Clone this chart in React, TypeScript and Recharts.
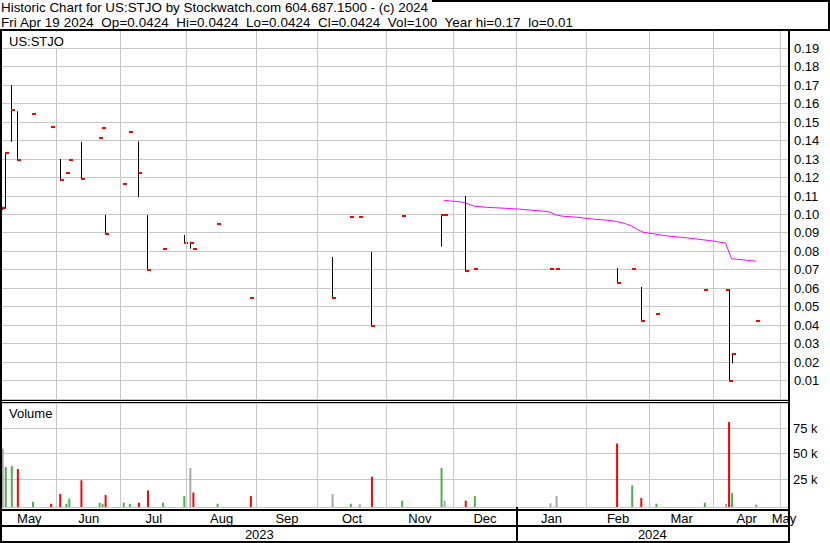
import React from 'react';
import { Bar, CartesianGrid, Cell, ComposedChart, Line, ReferenceLine, XAxis, YAxis } from 'recharts';

// trading days
const barDates = [
  '2023-05-08', '2023-05-09', '2023-05-11', '2023-05-15', '2023-05-22', '2023-05-30',
  '2023-06-02', '2023-06-06', '2023-06-07', '2023-06-13', '2023-06-21', '2023-06-22', '2023-06-23',
  '2023-07-03', '2023-07-05', '2023-07-10', '2023-07-13', '2023-07-20', '2023-07-31',
  '2023-08-02', '2023-08-03', '2023-08-15', '2023-08-30',
  '2023-10-06', '2023-10-16', '2023-10-19', '2023-10-25',
  '2023-11-08', '2023-11-27', '2023-11-28',
  '2023-12-07', '2023-12-12',
  '2024-01-16', '2024-01-18',
  '2024-02-15', '2024-02-22', '2024-02-27',
  '2024-03-05', '2024-03-27',
  '2024-04-05', '2024-04-08', '2024-04-09', '2024-04-19',
];
const highs = [
  0.1043, 0.1337, 0.1701, 0.156, 0.1546, 0.1475,
  0.1301, 0.1225, 0.1297, 0.1394, 0.1414, 0.1468, 0.0997,
  0.1165, 0.1447, 0.1396, 0.0997, 0.0813, 0.0889,
  0.0853, 0.0815, 0.095, 0.0545,
  0.077, 0.0988, 0.0988, 0.0797,
  0.0993, 0.1001, 0.0999,
  0.11, 0.0706,
  0.0706, 0.0706,
  0.071, 0.0706, 0.0607,
  0.0463, 0.0593,
  0.0593, 0.0593, 0.025, 0.0424,
];
const lows = [
  0.1025, 0.1035, 0.1394, 0.1295, 0.1546, 0.1475,
  0.1188, 0.1225, 0.1297, 0.1195, 0.1414, 0.1468, 0.0897,
  0.1165, 0.1447, 0.1096, 0.0697, 0.0813, 0.0848,
  0.0815, 0.0815, 0.095, 0.0545,
  0.0545, 0.0988, 0.0988, 0.0398,
  0.0993, 0.0826, 0.0999,
  0.0696, 0.0706,
  0.0706, 0.0706,
  0.0631, 0.0706, 0.0425,
  0.0463, 0.0593,
  0.0593, 0.0095, 0.0194, 0.0424,
];
const closes = [
  0.1035, 0.1333, 0.1566, 0.1295, 0.1546, 0.1475,
  0.1188, 0.1225, 0.1297, 0.1195, 0.1414, 0.1468, 0.0897,
  0.1165, 0.1447, 0.1225, 0.0697, 0.0813, 0.0848,
  0.0848, 0.0815, 0.095, 0.0545,
  0.0545, 0.0988, 0.0988, 0.0398,
  0.0993, 0.0999, 0.0999,
  0.0696, 0.0706,
  0.0706, 0.0706,
  0.0631, 0.0706, 0.0425,
  0.0463, 0.0593,
  0.0593, 0.0096, 0.0246, 0.0424,
];
const volumes = [
  55000, 37000, 38000, 35000, 3000, 1000,
  10500, 1000, 6000, 24000, 2000, 1000, 9500,
  2000, 1000, 2000, 14000, 2000, 8500,
  36000, 12000, 1000, 8500,
  10500, 1000, 500, 27500,
  4000, 36000, 4000,
  4000, 8500,
  1500, 8500,
  60000, 19000, 6500,
  1000, 2000,
  1000, 81000, 11500, 100,
];

// moving average (magenta)
const maDates = [
  '2023-11-28', '2023-11-30', '2023-12-04', '2023-12-06', '2023-12-08', '2023-12-12', '2023-12-18',
  '2023-12-26', '2024-01-02', '2024-01-08', '2024-01-12', '2024-01-16', '2024-01-18', '2024-01-22',
  '2024-01-29', '2024-02-05', '2024-02-12', '2024-02-15', '2024-02-20', '2024-02-22', '2024-02-26',
  '2024-02-28', '2024-03-04', '2024-03-07', '2024-03-11', '2024-03-18', '2024-03-25', '2024-03-28',
  '2024-04-01', '2024-04-03', '2024-04-05', '2024-04-09', '2024-04-11', '2024-04-16', '2024-04-19',
];
const maValues = [
  0.1077, 0.1073, 0.1071, 0.1067, 0.1057, 0.1045, 0.1039,
  0.1034, 0.1029, 0.1023, 0.1018, 0.1013, 0.0998, 0.0991,
  0.0985, 0.0975, 0.0969, 0.0962, 0.095, 0.0937, 0.0918,
  0.0903, 0.0896, 0.0888, 0.0883, 0.0876, 0.0866, 0.086,
  0.0856, 0.085, 0.0845, 0.076, 0.0757, 0.0752, 0.0747,
];

const monthStarts = [
  '2023-05-01', '2023-06-01', '2023-07-01', '2023-08-01', '2023-09-01', '2023-10-01', '2023-11-01',
  '2023-12-01', '2024-01-01', '2024-02-01', '2024-03-01', '2024-04-01', '2024-05-01', '2024-06-01',
];
const monthLabels = ['May', 'Jun', 'Jul', 'Aug', 'Sep', 'Oct', 'Nov', 'Dec', 'Jan', 'Feb', 'Mar', 'Apr', 'May'];
const yearStarts = ['2023-01-01', '2024-01-01', '2025-01-01'];
const yearLabels = ['2023', '2024'];

const priceTicks = [0.01, 0.02, 0.03, 0.04, 0.05, 0.06, 0.07, 0.08, 0.09, 0.1, 0.11, 0.12, 0.13, 0.14, 0.15, 0.16, 0.17, 0.18, 0.19];
const volumeTicks = [25000, 50000, 75000];

const FONT = '"Liberation Sans", Arial, sans-serif';
const GRID = '#c8c8c8';
const X_DOMAIN: [number, number] = [4.92, 264.64];
const VOL_DOMAIN: [number, number] = [-2200, 99700];

// x axis counts weekdays; weekends sit just after the Friday
const ORIGIN = Date.UTC(2023, 4, 1);
const session = (s: string) => {
  const [y, m, d] = s.split('-').map(Number);
  const days = Math.round((Date.UTC(y, m - 1, d) - ORIGIN) / 86400000);
  const wk = Math.floor(days / 7);
  const r = days - wk * 7;
  return wk * 5 + (r < 5 ? r : 4.2);
};

const bars = barDates.map((d, k) => {
  const prev = k > 0 ? closes[k - 1] : null;
  const c = closes[k];
  return {
    i: session(d),
    high: highs[k],
    low: lows[k],
    close: c,
    vol: volumes[k],
    color: prev === null || prev === c ? '#a8a8a8' : c > prev ? '#4cb04c' : '#ff0000',
  };
});
const maData = maDates.map((d, k) => ({ i: session(d), ma: maValues[k] }));

const clamp = (v: number) => Math.min(X_DOMAIN[1], Math.max(X_DOMAIN[0], v));
const monthGrid = monthStarts.map(session).filter((v) => v > X_DOMAIN[0] && v < X_DOMAIN[1]);

type AxisTickInfo = { value: number; kind: 'month' | 'year' | 'divider'; label: string };
const axisTicks: AxisTickInfo[] = [
  ...monthLabels.map((label, k) => ({
    value: (clamp(session(monthStarts[k])) + clamp(session(monthStarts[k + 1]))) / 2,
    kind: 'month' as const,
    label,
  })),
  ...yearLabels.map((label, k) => ({
    value: (clamp(session(yearStarts[k])) + clamp(session(yearStarts[k + 1]))) / 2,
    kind: 'year' as const,
    label,
  })),
  ...yearStarts
    .map(session)
    .filter((v) => v > X_DOMAIN[0] && v < X_DOMAIN[1])
    .map((value) => ({ value, kind: 'divider' as const, label: '' })),
];

const OhlcShape = (props: any) => {
  const { x, y, width, height, payload } = props;
  const top = Math.min(y, y + height);
  const h = Math.abs(height);
  const cx = Math.round(x + width / 2);
  const span = payload.high - payload.low;
  const cy = span > 0 ? top + ((payload.high - payload.close) / span) * h : top;
  return (
    <g>
      {h > 0.5 && <rect x={cx} y={top} width={1} height={h} fill="#000" />}
      <rect x={cx} y={Math.round(cy) - 1} width={4} height={2} fill="#ff0000" />
    </g>
  );
};

const PriceTick = ({ x, y, payload }: any) => (
  <text x={x} y={y} dominantBaseline="central" fontSize={13} fontFamily={FONT} fill="#000">
    {payload.value.toFixed(2)}
  </text>
);

const VolumeTick = ({ x, y, payload }: any) => (
  <text x={x} y={y} dominantBaseline="central" fontSize={13} fontFamily={FONT} fill="#000">
    {`${payload.value / 1000} k`}
  </text>
);

const DateTick = ({ x, y, payload }: any) => {
  const info = axisTicks.find((t) => Math.abs(t.value - payload.value) < 1e-6);
  if (!info) return null;
  if (info.kind === 'divider') return <rect x={Math.round(x) - 1} y={y} width={2} height={36} fill="#000" />;
  return (
    <text x={x} y={y + (info.kind === 'month' ? 16 : 32)} textAnchor="middle" fontSize={13} fontFamily={FONT} fill="#000">
      {info.label}
    </text>
  );
};

const App: React.FC = () => (
  <div style={{ position: 'absolute', left: 0, top: 0, width: 830, height: 543, background: '#fff', fontFamily: FONT }}>
    <style>{'svg line { shape-rendering: crispEdges; }'}</style>

    <div style={{ position: 'absolute', left: 0, top: 0 }}>
      <ComposedChart width={830} height={543} data={bars} margin={{ top: 403, right: 0, bottom: 0, left: 2 }}>
        <CartesianGrid vertical={false} stroke={GRID} />
        {monthGrid.map((v) => (
          <ReferenceLine key={v} x={v} stroke={GRID} />
        ))}
        <XAxis
          type="number"
          dataKey="i"
          domain={X_DOMAIN}
          allowDataOverflow
          ticks={axisTicks.map((t) => t.value)}
          interval={0}
          tick={<DateTick />}
          tickLine={false}
          axisLine={false}
          tickSize={0}
          tickMargin={0}
          height={36}
        />
        <YAxis
          orientation="right"
          domain={VOL_DOMAIN}
          allowDataOverflow
          ticks={volumeTicks}
          tick={<VolumeTick />}
          tickLine={false}
          axisLine={false}
          tickSize={0}
          tickMargin={5}
          width={42}
        />
        <Bar dataKey={(d: any) => [VOL_DOMAIN[0], d.vol]} barSize={2} isAnimationActive={false}>
          {bars.map((b, k) => (
            <Cell key={k} fill={b.color} />
          ))}
        </Bar>
      </ComposedChart>
    </div>

    <div style={{ position: 'absolute', left: 0, top: 0 }}>
      <ComposedChart width={830} height={400} data={bars} margin={{ top: 30, right: 0, bottom: 1, left: 2 }}>
        <CartesianGrid vertical={false} stroke={GRID} />
        {monthGrid.map((v) => (
          <ReferenceLine key={v} x={v} stroke={GRID} />
        ))}
        <XAxis type="number" dataKey="i" domain={X_DOMAIN} allowDataOverflow hide />
        <YAxis
          orientation="right"
          domain={[0, 0.2]}
          allowDataOverflow
          ticks={priceTicks}
          interval={0}
          tick={<PriceTick />}
          tickLine={false}
          axisLine={false}
          tickSize={0}
          tickMargin={6}
          width={42}
        />
        <Bar dataKey={(d: any) => [d.low, d.high]} barSize={1} shape={<OhlcShape />} isAnimationActive={false} />
        <Line
          data={maData}
          dataKey="ma"
          type="linear"
          stroke="#ff00ff"
          strokeWidth={1}
          dot={false}
          isAnimationActive={false}
        />
      </ComposedChart>
    </div>

    <svg width={830} height={543} style={{ position: 'absolute', left: 0, top: 0, pointerEvents: 'none' }}>
      <g fontFamily={FONT} fill="#000">
        <text x={1} y={12.3} fontSize={13.4} textLength={427} lengthAdjust="spacing">
          Historic Chart for US:STJO by Stockwatch.com 604.687.1500 - (c) 2024
        </text>
        <text x={1} y={26.7} fontSize={13.4} textLength={572} lengthAdjust="spacing" style={{ whiteSpace: 'pre' }}>
          {'Fri Apr 19 2024  Op=0.0424  Hi=0.0424  Lo=0.0424  Cl=0.0424  Vol=100  Year hi=0.17  lo=0.01'}
        </text>
        <rect x={6} y={32} width={60} height={16} fill="#fff" />
        <text x={9} y={45.7} fontSize={13}>US:STJO</text>
        <text x={9} y={418.3} fontSize={13}>Volume</text>
      </g>
      <g fill="#000">
        <rect x={432} y={0} width={398} height={2} />
        <rect x={828} y={0} width={2} height={31} />
        <rect x={0} y={29} width={830} height={2} />
        <rect x={0} y={31} width={2} height={512} />
        <rect x={788} y={31} width={2} height={512} />
        <rect x={0} y={400} width={790} height={1} />
        <rect x={0} y={402} width={790} height={1} />
        <rect x={0} y={509} width={790} height={2} />
        <rect x={0} y={525} width={790} height={2} />
        <rect x={0} y={541} width={790} height={2} />
      </g>
    </svg>
  </div>
);

export default App;
